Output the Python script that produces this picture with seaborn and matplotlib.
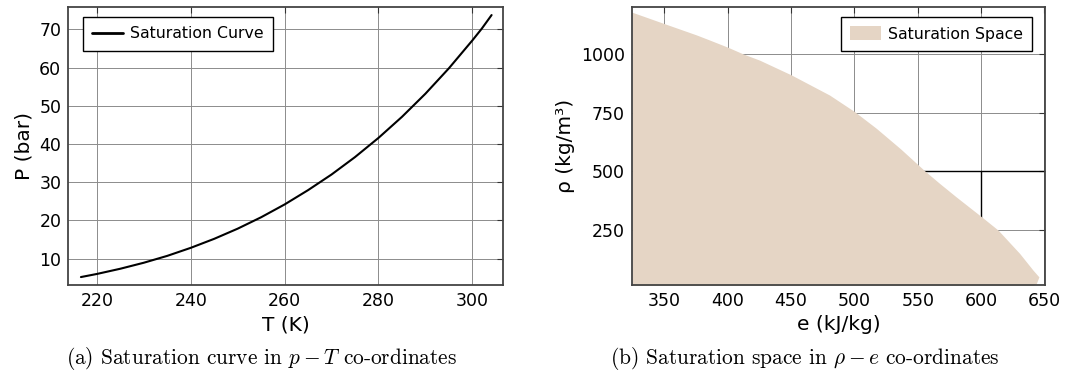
import matplotlib
matplotlib.use("Agg")
import matplotlib.pyplot as plt
import seaborn as sns
import pandas as pd
from matplotlib.patches import Patch
from matplotlib.lines import Line2D

# panel (a): saturation pressure vs temperature
sat_T = [216.6, 220, 225, 230, 235, 240, 245, 250, 255, 260, 265, 270,
         275, 280, 285, 290, 295, 300, 302, 304.1]
sat_P = [5.18, 5.99, 7.36, 8.93, 10.73, 12.83, 15.19, 17.85, 20.84, 24.19,
         27.94, 32.03, 36.59, 41.61, 47.12, 53.18, 59.83, 67.13, 70.2, 73.77]

# panel (b): boundary of the saturation space (rho vs e)
dome_rho = [1180, 1133, 1083, 1061, 1030, 1002, 975, 912, 826, 755, 684, 596,
            503, 449, 391, 307, 250, 150, 79, 50, 22, 10]
dome_e = [324.4, 348.9, 375.2, 385.7, 400.2, 412.0, 425.2, 450.2, 480.4,
          500.2, 517.3, 536.5, 555.4, 567.2, 580.4, 600.2, 613.3, 630.4,
          640.9, 645.6, 643.6, 639.6]

# the two dark line pieces seen behind the fill
box_h_e = [550, 650]
box_h_rho = [500, 500]
box_v_e = [600, 600]
box_v_rho = [500, 0]

fill_col = "#e5d5c5"
grid_col = "#8c8c8c"

sns.set_theme(style="white")
plt.rcParams["font.family"] = ["DejaVu Sans"]
plt.rcParams["mathtext.fontset"] = "cm"
plt.rcParams["text.color"] = "black"
plt.rcParams["axes.labelcolor"] = "black"
plt.rcParams["xtick.color"] = "black"
plt.rcParams["ytick.color"] = "black"

fig = plt.figure(figsize=(10.65, 3.91), dpi=100)
ax1 = fig.add_axes([0.0641, 0.2711, 0.4085, 0.7102])
ax2 = fig.add_axes([0.5934, 0.2711, 0.3878, 0.7102])

df_a = pd.DataFrame({"T": sat_T, "P": sat_P})
sns.lineplot(data=df_a, x="T", y="P", ax=ax1, color="black", lw=1.5, zorder=3)
ax1.set_xlim(213.9, 306.6)
ax1.set_ylim(3.1, 75.8)
ax1.set_xticks([220, 240, 260, 280, 300])
ax1.set_yticks([10, 20, 30, 40, 50, 60, 70])
ax1.set_xlabel("T (K)", fontsize=14.5)
ax1.set_ylabel("P (bar)", fontsize=14.5)
ax1.legend(handles=[Line2D([0], [0], color="black", lw=2)],
           labels=["Saturation Curve"], loc="upper left",
           bbox_to_anchor=(0.033, 0.966), fontsize=11.3,
           fancybox=False, edgecolor="black", framealpha=1,
           borderaxespad=0, borderpad=0.6, handletextpad=0.4)

# panel (b)
ax2.plot(box_h_e, box_h_rho, color="black", lw=1.0, zorder=2)
ax2.plot(box_v_e, box_v_rho, color="black", lw=1.0, zorder=2)
ax2.fill_betweenx(dome_rho, dome_e[0], dome_e, color=fill_col, lw=0, zorder=3)
ax2.set_xlim(324.4, 650.4)
ax2.set_ylim(15.2, 1200.7)
ax2.set_xticks([350, 400, 450, 500, 550, 600, 650])
ax2.set_yticks([250, 500, 750, 1000])
ax2.set_xlabel("e (kJ/kg)", fontsize=14.5)
ax2.set_ylabel("ρ (kg/m³)", fontsize=14.5)
ax2.legend(handles=[Patch(facecolor=fill_col, edgecolor="none")],
           labels=["Saturation Space"], loc="upper right",
           bbox_to_anchor=(0.9686, 0.966), fontsize=11.3,
           fancybox=False, edgecolor="black", framealpha=1,
           borderaxespad=0, borderpad=0.6, handletextpad=0.4,
           handleheight=1.0)

for ax in (ax1, ax2):
    ax.grid(True, color=grid_col, lw=0.7, zorder=1)
    ax.set_axisbelow(True)
    ax.tick_params(direction="in", top=True, right=True, length=4,
                   width=0.8, color="#333333", labelsize=12.5, pad=5)
    for s in ax.spines.values():
        s.set_color("#444444")
        s.set_linewidth(1.3)
        s.set_zorder(5)

fig.text(262 / 1065, 0.084, r"(a) Saturation curve in $p-T$ co-ordinates",
         ha="center", va="center", fontsize=15.4, family="cmr10")
fig.text(805 / 1065, 0.084, r"(b) Saturation space in $\rho-e$ co-ordinates",
         ha="center", va="center", fontsize=15.4, family="cmr10")

fig.savefig("out.png", dpi=100)
